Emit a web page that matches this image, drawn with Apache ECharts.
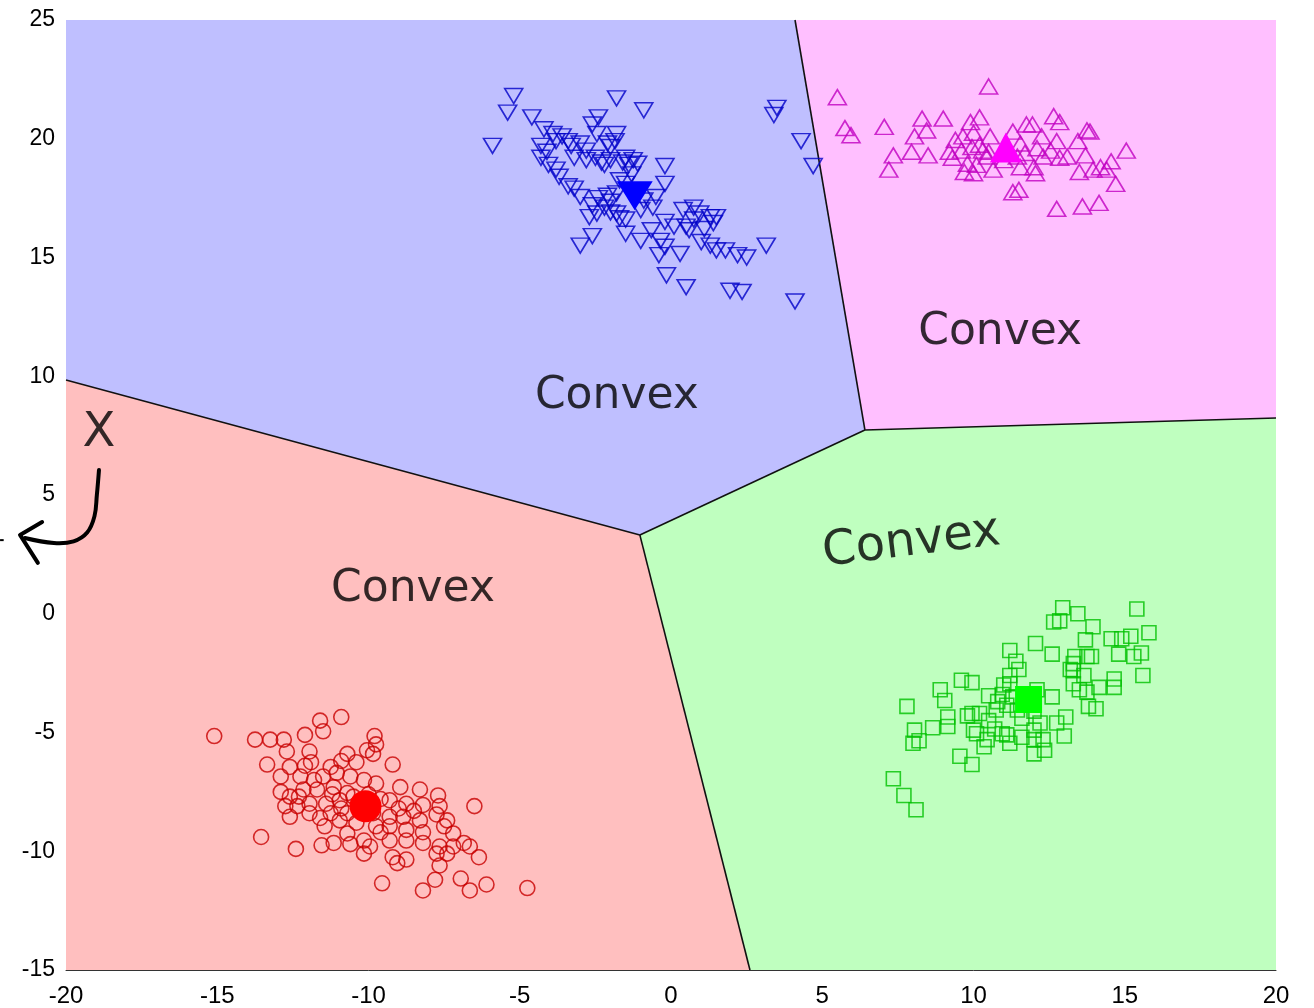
<!DOCTYPE html>
<html><head><meta charset="utf-8">
<script src="https://cdn.jsdelivr.net/npm/echarts@6/dist/echarts.min.js"></script>
<style>html,body{margin:0;padding:0;background:#fff}#c{width:1314px;height:1008px}</style>
</head><body><div id="c"></div>
<script>
// ---------- DATA ----------
const xRange = [-20, 20];
const yRange = [-15, 25];

// Voronoi region polygons (data coordinates)
const regionRed   = [[-20,-15],[-20,9.84],[-1.03,3.32],[2.61,-15]];
const regionBlue  = [[-20,9.84],[-20,25],[4.10,25],[6.41,7.74],[-1.03,3.32]];
const regionPink  = [[4.10,25],[20,25],[20,8.24],[6.41,7.74]];
const regionGreen = [[-1.03,3.32],[6.41,7.74],[20,8.24],[20,-15],[2.61,-15]];

// Boundary segments
const boundaryRB = [[-20,9.84],[-1.03,3.32]];
const boundaryRG = [[-1.03,3.32],[2.61,-15]];
const boundaryBG = [[-1.03,3.32],[6.41,7.74]];
const boundaryBP = [[4.10,25],[6.41,7.74]];
const boundaryPG = [[6.41,7.74],[20,8.24]];

// Cluster points
const bluePts = [
[-5.2,21.8],[-5.4,21.1],[-5.9,19.7],[-4.6,20.9],[-1.8,21.7],[-0.9,21.2],[3.5,21.3],[3.4,21.0],[4.3,19.9],[4.7,18.85],
[-2.4,20.9],[-2.6,20.6],[-2.45,20.2],[-4.2,20.4],[-3.9,20.2],[-3.6,20.1],[-3.4,19.9],[-4.3,19.7],[-4.1,19.45],[-4.3,19.2],
[-4.05,18.9],[-3.8,18.7],[-3.7,18.4],[-3.8,19.9],[-3.3,19.7],[-3.0,19.8],[-2.8,19.5],[-3.2,19.2],[-2.8,19.1],[-2.5,19.2],
[-2.3,19.0],[-2.2,18.9],[-2.0,19.1],[-1.8,20.2],[-1.85,19.9],[-2.1,19.8],[-2.0,19.65],[-1.5,19.2],[-1.25,19.1],[-1.1,18.95],
[-0.2,18.85],[-0.2,18.1],[-0.5,17.55],[-1.7,18.25],[-1.5,18.1],[-1.8,17.7],[-2.1,17.6],[-2.0,17.35],[-2.2,17.1],[-2.0,16.9],
[-1.8,16.85],[-1.7,16.65],[-1.5,16.6],[-2.6,17.2],[-2.45,16.85],[-2.7,16.7],[-3.2,17.9],[-3.0,17.55],[-3.4,18.0],[-2.6,15.9],
[-3.0,15.5],[-1.5,16.0],[-1.0,15.7],[-0.6,17.1],[-0.2,16.5],[-0.65,16.15],[-0.35,15.7],[-0.2,15.45],[-0.4,15.1],[0.3,15.15],
[0.4,17.0],[0.75,17.1],[0.95,16.85],[1.3,16.7],[1.5,16.7],[1.4,16.45],[0.75,16.6],[0.6,16.15],[1.0,15.65],[1.3,15.5],
[1.5,15.3],[1.8,15.3],[2.2,15.1],[2.5,15.0],[3.15,15.5],[-0.15,14.25],[0.5,13.75],[1.95,13.6],[2.35,13.55],[4.1,13.15],
[-1.6,19.0],[-1.4,18.9],[-1.3,18.5],[-0.9,17.4],[-1.0,17.0],[-2.4,17.5],[0.1,16.3],[0.5,16.3],[1.1,16.2]
];
const magentaPts = [
[5.5,21.75],[10.5,22.2],[5.75,20.45],[5.95,20.15],[7.05,20.5],[8.3,20.85],[9.0,20.85],[8.45,20.35],[8.05,20.1],[7.35,19.3],
[7.2,18.7],[7.95,19.45],[8.5,19.3],[9.9,20.7],[10.2,20.9],[9.4,19.95],[9.2,19.45],[9.3,19.2],[9.65,20.1],[10.0,20.25],
[9.95,19.65],[10.2,19.75],[10.55,20.1],[10.5,19.45],[10.45,19.25],[9.8,18.95],[9.7,18.6],[10.0,18.55],[10.65,18.7],[11.3,20.3],
[11.55,19.8],[11.75,20.6],[11.95,20.6],[11.45,19.25],[11.55,18.8],[12.0,18.8],[12.05,18.55],[12.3,19.25],[12.25,20.1],[12.65,20.95],
[12.85,20.7],[12.75,19.9],[12.55,19.5],[12.85,19.2],[13.1,19.25],[13.45,19.9],[13.75,20.35],[13.85,20.3],[13.7,19.3],[13.5,18.6],
[13.95,18.7],[14.2,18.8],[14.4,18.7],[14.55,19.05],[14.7,18.1],[15.05,19.5],[11.3,17.75],[11.5,17.85],[12.75,17.05],[13.6,17.15],
[14.15,17.3],[9.6,19.5],[10.3,19.5],[10.1,18.9],[11.0,19.1],[11.7,19.4],[12.1,19.6]
];
const redPts = [
[-15.1,-5.15],[-13.75,-5.3],[-13.25,-5.3],[-12.8,-5.3],[-12.1,-5.1],[-11.6,-4.5],[-11.5,-4.95],[-10.9,-4.35],[-12.7,-5.8],[-11.95,-5.8],
[-9.8,-5.15],[-9.75,-5.5],[-9.85,-5.9],[-13.35,-6.35],[-12.6,-6.45],[-11.9,-6.25],[-11.25,-6.45],[-10.7,-5.9],[-10.4,-6.25],[-10.05,-5.75],
[-9.2,-6.35],[-12.9,-6.85],[-12.25,-6.85],[-11.5,-6.85],[-11.05,-6.7],[-10.6,-6.85],[-10.15,-7.0],[-9.75,-7.15],[-12.9,-7.5],[-12.6,-7.7],
[-12.15,-7.4],[-11.7,-7.4],[-11.15,-7.3],[-10.7,-7.55],[-8.95,-7.3],[-8.3,-7.4],[-7.7,-7.65],[-12.75,-8.1],[-12.35,-8.1],[-11.95,-8.0],
[-11.4,-8.0],[-10.95,-7.85],[-9.3,-7.85],[-8.75,-8.0],[-8.2,-8.05],[-7.65,-8.1],[-6.5,-8.1],[-12.6,-8.55],[-11.95,-8.4],[-11.25,-8.4],
[-10.7,-8.4],[-9.85,-8.4],[-9.3,-8.55],[-8.85,-8.55],[-8.3,-8.7],[-7.75,-8.45],[-7.4,-8.7],[-11.45,-8.95],[-10.95,-8.7],[-10.4,-8.8],
[-9.75,-8.95],[-9.3,-8.95],[-8.75,-9.1],[-8.2,-9.2],[-7.5,-8.95],[-7.2,-9.25],[-13.55,-9.4],[-12.4,-9.9],[-11.55,-9.75],[-11.15,-9.65],
[-10.7,-9.25],[-10.15,-9.55],[-9.95,-9.8],[-10.15,-10.1],[-9.3,-9.55],[-8.75,-9.55],[-8.2,-9.65],[-7.65,-9.8],[-7.2,-9.8],[-6.85,-9.65],
[-6.65,-9.8],[-9.2,-10.25],[-9.05,-10.5],[-8.75,-10.35],[-7.75,-10.1],[-7.4,-10.1],[-7.65,-10.6],[-6.35,-10.25],[-9.55,-11.35],[-8.2,-11.65],
[-7.8,-11.2],[-6.95,-11.15],[-6.65,-11.65],[-6.1,-11.4],[-4.75,-11.55],
[-11.2,-7.6],[-10.5,-7.7],[-10.0,-7.6],[-9.6,-7.8],[-11.8,-7.0],[-12.3,-7.7],[-10.9,-8.2],[-9.0,-8.2],[-9.6,-9.2],[-10.6,-9.7],
[-8.5,-8.3],[-11.6,-8.6],[-12.1,-6.4],[-10.9,-6.2]
];
const greenPts = [
[12.95,0.25],[12.85,-0.3],[12.65,-0.35],[13.45,0.0],[15.4,0.2],[13.95,-0.55],[15.8,-0.8],[13.7,-1.1],[14.55,-1.05],[14.9,-1.05],
[15.2,-0.95],[12.05,-1.25],[11.2,-1.55],[12.6,-1.7],[13.35,-1.8],[13.75,-1.8],[13.9,-1.8],[14.8,-1.7],[15.3,-1.8],[15.55,-1.65],
[15.6,-2.6],[13.2,-2.35],[13.3,-2.1],[13.65,-2.6],[13.3,-2.95],[13.5,-3.2],[13.75,-3.3],[14.15,-3.1],[14.65,-2.75],[14.65,-3.1],
[11.5,-2.35],[11.2,-2.6],[11.2,-2.95],[9.6,-2.8],[9.95,-2.9],[8.9,-3.2],[9.05,-3.65],[7.8,-3.9],[10.5,-3.45],[10.95,-3.4],
[10.8,-3.7],[10.75,-4.05],[11.1,-3.85],[11.45,-4.05],[12.1,-3.2],[12.6,-3.5],[13.8,-3.9],[14.05,-4.0],[13.05,-4.35],[12.75,-4.6],
[9.95,-4.2],[9.8,-4.3],[10.2,-4.2],[9.15,-4.35],[9.15,-4.75],[8.65,-4.8],[8.05,-4.9],[8.0,-5.45],[8.2,-5.35],[10.0,-4.9],
[10.1,-5.05],[10.45,-5.3],[10.35,-5.6],[10.7,-4.85],[10.95,-5.05],[11.1,-5.1],[11.2,-5.45],[11.6,-5.2],[12.0,-4.9],[12.2,-4.6],
[12.0,-5.3],[12.3,-5.3],[12.35,-5.75],[12.0,-5.9],[13.0,-5.15],[9.55,-6.0],[9.95,-6.35],[7.35,-6.95],[7.7,-7.65],[8.1,-8.25],
[11.0,-3.0],[11.3,-3.5],[11.6,-4.4],[10.5,-4.5],[12.0,-4.1],[13.3,-2.4],[11.4,-2.0]
];

// Cluster centres
const redCentre = [[-10.1,-8.1]];
const blueCentre = [[-1.2,17.6]];
const magentaCentre = [[11.07,19.63]];
const greenCentre = [[11.82,-3.61]];

// Annotations: [x, y, text, rotation, fontSize]
const convexLabels = [[-1.79,9.13,'Convex',0,44],[10.88,11.82,'Convex',0,44],[7.95,3.0,'Convex',7,48],[-8.53,1.0,'Convex',0,44]];
const xMark = [[-18.91,7.57,'X']];
const arrowCurve = [[-18.91,6.05],[-18.98,5.0],[-19.06,4.1],[-19.3,3.42],[-19.75,3.05],[-20.4,2.98],[-21.36,3.19]];
const arrowHead = [[-20.79,3.86],[-21.52,3.32],[-20.93,2.14]];
const arrowTail = [[-22.18,3.1],[-22.06,3.1]];

// ---------- CHART ----------
const chart = echarts.init(document.getElementById('c'), null, {renderer:'canvas'});

function polySeries(verts, color) {
  return {
    type: 'custom', coordinateSystem: 'cartesian2d', silent: true, z: 1,
    data: [verts[0]],
    renderItem: function (params, api) {
      return { type: 'polygon', shape: { points: verts.map(v => api.coord(v)) }, style: { fill: color } };
    }
  };
}
function boundary(d) {
  return { type: 'line', data: d, symbol: 'none', silent: true, z: 2,
    lineStyle: { color: '#111', width: 1.6 } };
}
function pts(d, symbol, size, color, rot) {
  return { type: 'scatter', data: d, symbol: symbol, symbolSize: size, symbolRotate: rot || 0, silent: true, z: 5,
    itemStyle: { color: 'rgba(0,0,0,0)', borderColor: color, borderWidth: 1.6 } };
}
function centre(d, symbol, size, color, rot) {
  return { type: 'scatter', data: d, symbol: symbol, symbolSize: size, symbolRotate: rot || 0, silent: true, z: 20,
    itemStyle: { color: color, opacity: 1 } };
}

const option = {
  animation: false,
  backgroundColor: '#ffffff',
  grid: { left: 66, top: 20, right: 38, bottom: 38, containLabel: false },
  xAxis: {
    type: 'value', min: xRange[0], max: xRange[1], interval: 5,
    axisLine: { show: true, onZero: false, lineStyle: { color: '#333', width: 1 } },
    axisTick: { show: false }, splitLine: { show: false },
    axisLabel: { color: '#000', fontSize: 24, fontFamily: 'Liberation Sans', margin: 14 }
  },
  yAxis: {
    type: 'value', min: yRange[0], max: yRange[1], interval: 5,
    axisLine: { show: false }, axisTick: { show: false }, splitLine: { show: false },
    axisLabel: { color: '#000', fontSize: 23, fontFamily: 'Liberation Sans', margin: 11 }
  },
  series: [
    polySeries(regionRed, '#FFBFBF'),
    polySeries(regionBlue, '#BFBFFF'),
    polySeries(regionPink, '#FFBFFF'),
    polySeries(regionGreen, '#BFFFBF'),
    boundary(boundaryRB), boundary(boundaryRG), boundary(boundaryBG), boundary(boundaryBP), boundary(boundaryPG),
    pts(redPts, 'circle', 15, '#C80000'),
    pts(bluePts, 'triangle', [18, 15], '#0000C8', 180),
    pts(magentaPts, 'triangle', [18, 15], '#C000C0'),
    pts(greenPts, 'rect', 14, '#00C000'),
    centre(redCentre, 'circle', 32, '#FF0000'),
    centre(blueCentre, 'triangle', [36, 29], '#0000FF', 180),
    centre(magentaCentre, 'triangle', [32, 30], '#FF00FF'),
    centre(greenCentre, 'rect', 27, '#00FF00'),
    {
      type: 'scatter', symbolSize: 0, silent: true, z: 30,
      data: convexLabels.map(d => ({ value: [d[0], d[1]],
        label: { show: true, position: 'inside', formatter: d[2], rotate: d[3], fontSize: d[4],
          color: '#000', fontFamily: 'DejaVu Sans' } }))
    },
    {
      type: 'scatter', symbolSize: 0, silent: true, z: 30,
      data: xMark.map(d => ({ value: [d[0], d[1]],
        label: { show: true, position: 'inside', formatter: d[2], color: '#000', fontSize: 48, fontFamily: 'DejaVu Sans' } }))
    }
  ]
};
chart.setOption(option);

// Hand-drawn arrow annotation, positioned from data coordinates
const toPx = p => chart.convertToPixel({ gridIndex: 0 }, p);
const penStyle = { stroke: '#000', lineWidth: 4, fill: null, lineCap: 'round', lineJoin: 'round' };
chart.setOption({
  graphic: [
    { type: 'polyline', z: 100, silent: true, shape: { points: arrowCurve.map(toPx), smooth: 0.4 }, style: penStyle },
    { type: 'polyline', z: 100, silent: true, shape: { points: arrowHead.map(toPx) }, style: penStyle },
    { type: 'polyline', z: 100, silent: true, shape: { points: arrowTail.map(toPx) }, style: { stroke: '#000', lineWidth: 2, fill: null } }
  ]
});
</script></body></html>
